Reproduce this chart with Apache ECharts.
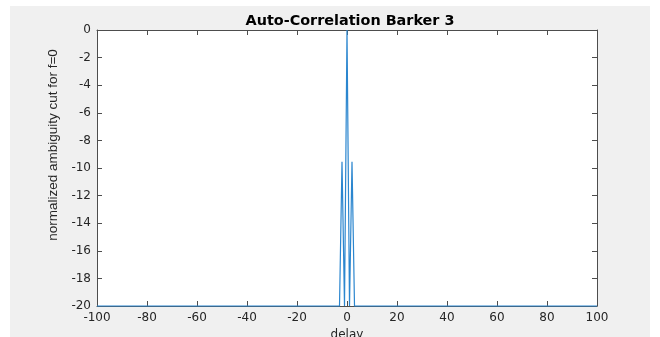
<!DOCTYPE html>
<html><head><meta charset="utf-8">
<script src="https://cdn.jsdelivr.net/npm/echarts@6/dist/echarts.min.js"></script>
<style>html,body{margin:0;padding:0;background:#fff}#c{width:660px;height:337px}</style>
</head><body><div id="c"></div>
<script>
const delays = [-100, -3, -2, -1, 0, 1, 2, 3, 100];
const values = [-20, -20, -9.54, -20, 0, -20, -9.54, -20, -20];
const xTicks = [-100, 100, 20];
const yTicks = [-20, 0, 2];
const titleText = 'Auto-Correlation Barker 3';
const xName = 'delay';
const yName = 'normalized ambiguity cut for f=0';

const chart = echarts.init(document.getElementById('c'), null, {renderer: 'canvas'});
const axisCol = '#4d4d4d';
const labelCol = '#262626';
const font = 'DejaVu Sans, sans-serif';
const font2 = 'Liberation Sans, Arial, sans-serif';
const baseAxis = {
  axisLine: {show: true, onZero: false, lineStyle: {color: axisCol, width: 1}},
  axisTick: {show: true, inside: true, length: 5, lineStyle: {color: axisCol}},
  splitLine: {show: false}
};
chart.setOption({
  animation: false,
  backgroundColor: '#fff',
  graphic: [{type: 'rect', left: 10, top: 6, shape: {width: 640, height: 331}, style: {fill: '#f0f0f0'}, z: -10, silent: true},
            {type: 'rect', left: 97, top: 30, shape: {width: 500, height: 276}, style: {fill: '#fff'}, z: -5, silent: true},
            {type: 'text', x: 53, y: 145, rotation: Math.PI / 2, silent: true,
             style: {text: yName, fontFamily: font2, fontSize: 13.5, fill: labelCol, align: 'center', verticalAlign: 'middle'}}],
  title: {text: titleText, left: 345, top: 9, textAlign: 'center',
    textStyle: {fontFamily: font, fontSize: 14.4, fontWeight: 'bold', color: '#000'}},
  grid: {left: 97, top: 30, width: 500, height: 276, containLabel: false, outerBoundsMode: 'none'},
  xAxis: [
    Object.assign({type: 'value', min: xTicks[0], max: xTicks[1], interval: xTicks[2],
      name: xName, nameLocation: 'middle', nameGap: 21,
      nameTextStyle: {fontFamily: font, fontSize: 12, color: labelCol},
      axisLabel: {fontFamily: font, fontSize: 12, color: labelCol, margin: 6}}, baseAxis),
    Object.assign({type: 'value', position: 'top', min: xTicks[0], max: xTicks[1], interval: xTicks[2],
      axisLabel: {show: false}}, baseAxis)
  ],
  yAxis: [
    Object.assign({type: 'value', min: yTicks[0], max: yTicks[1], interval: yTicks[2],
      axisLabel: {fontFamily: font, fontSize: 12, color: labelCol, margin: 6}}, baseAxis),
    Object.assign({type: 'value', position: 'right', min: yTicks[0], max: yTicks[1], interval: yTicks[2],
      axisLabel: {show: false}}, baseAxis)
  ],
  series: [{
    type: 'line', showSymbol: false, symbol: 'none',
    data: delays.map((d, i) => [d, values[i]]),
    lineStyle: {color: '#2b86cf', width: 1.2},
    clip: false, z: 3
  }]
});
</script></body></html>
